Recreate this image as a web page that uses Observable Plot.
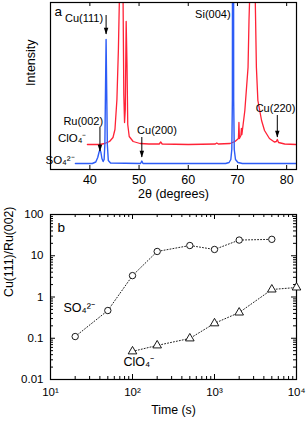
<!DOCTYPE html>
<html><head><meta charset="utf-8">
<script src="https://cdn.jsdelivr.net/npm/d3@7"></script>
<script src="https://cdn.jsdelivr.net/npm/@observablehq/plot@0.6"></script>
<style>
body{margin:0;background:#fff;}
#chart{width:307px;}
#chart svg{display:block;}
</style>
</head><body><div id="chart"></div>
<script>
// ---------- Panel (a): XRD patterns ----------
const so4TwoTheta = [37.06,40.5,41.2,41.6,41.85,42.05,42.25,42.45,42.7,42.9,43.05,43.18,43.3,43.42,43.55,43.75,44.2,50.3,50.56,50.8,67.6,68.3,68.65,68.85,68.97,69.1,69.23,69.35,69.6,70.1,71.0,82.0];
const so4Intensity = [6,6,7.5,12,17,20,17,11,8,10,25,80,130,80,25,9,6.5,6,8.5,6,6,7,10,20,70,1000,70,20,10,7,6,6];
const clo4TwoTheta = [39.5,42.0,43.0,44.0,44.7,45.1,45.5,45.8,46.0,46.37,46.75,46.9,47.05,47.2,47.38,47.55,47.7,48.0,48.8,50.2,52.0,54.1,54.4,54.7,60.0,65.5,65.8,66.1,68.5,69.5,70.2,70.3,70.4,70.7,70.8,70.9,71.5,72.15,72.35,72.5,73.0,73.6,73.85,74.15,74.9,75.5,76.5,77.5,77.9,78.1,78.35,79.6,82.0];
const clo4Intensity = [25,25,26,28,32,40,70,120,170,700,170,75,47,60,148,105,45,33,28,26,25.5,25.5,27.5,25.5,25,25.5,26.5,25.5,26,28,31,47,31,34,41,35,59,102,150,175,900,175,102,69,49,39,31,27.5,28,30,27,25.5,25];
const xTicksA = [40,50,60,70,80];

const peakNames   = ["Cu(111)","Ru(002)","Cu(200)","Cu(220)"];
const peakAngles  = [43.3,42.05,50.56,78.1];
const arrowTop    = [154,42,32,54];
const arrowTip    = [135,18,12,32];
const labelAngle  = [42.7,42.7,49.6,73.7];
const labelLevel  = [151,48,39,61];
const labelAnchor = ["end","end","start","start"];

// ---------- Panel (b): Cu(111)/Ru(002) ratio vs time ----------
const timeSO4  = [20,50,100,200,500,1000,2000,5000];
const ratioSO4 = [0.11,0.47,3.3,12.7,17.7,14.2,24,25];
const timeClO4  = [100,200,500,1000,2000,5000,10000];
const ratioClO4 = [0.048,0.067,0.099,0.23,0.42,1.52,1.7];
const xTicksB = [10,100,1000,10000];
const xTickLabelsB = ["10\u00B9","10\u00B2","10\u00B3","10\u2074"];
const xMinorB = [20,30,40,50,60,70,80,90,200,300,400,500,600,700,800,900,2000,3000,4000,5000,6000,7000,8000,9000];
const yTicksB = [0.01,0.1,1,10,100];
const yTickLabelsB = ["0.01","0.1","1","10","100"];
const yMinorB = [0.02,0.03,0.04,0.05,0.06,0.07,0.08,0.09,0.2,0.3,0.4,0.5,0.6,0.7,0.8,0.9,2,3,4,5,6,7,8,9,20,30,40,50,60,70,80,90];

const font = "'Liberation Sans', Arial, Helvetica, sans-serif";
const RED = "#ff2236", BLUE = "#2d5cf6";

const so4Pattern = so4TwoTheta.map((t,i)=>({t, I: so4Intensity[i]}));
const clo4Pattern = clo4TwoTheta.map((t,i)=>({t, I: clo4Intensity[i]}));
const arrows = peakNames.map((n,i)=>({n, x: peakAngles[i], y1: arrowTop[i], y2: arrowTip[i]}));
const peakLabels = peakNames.map((n,i)=>({n, x: labelAngle[i], y: labelLevel[i], a: labelAnchor[i]}));
const labelsEnd = peakLabels.filter(d => d.a === "end");
const labelsStart = peakLabels.filter(d => d.a === "start");

const downHead = {draw(ctx, size){ const s = Math.sqrt(size/Math.PI); ctx.moveTo(0,0); ctx.lineTo(-s*0.8,-s*2.4); ctx.lineTo(s*0.8,-s*2.4); ctx.closePath(); }};

const fhA = 205-2-36;
const plotA = Plot.plot({
  width: 307, height: 205, marginTop: 2, marginBottom: 36, marginLeft: 50, marginRight: 11,
  style: {fontFamily: font, fontSize: "12.5px", color: "black", background: "white"},
  x: {domain: [32, 82]},
  y: {domain: [0, 167], axis: null},
  marks: [
    Plot.line(clo4Pattern, {x: "t", y: "I", stroke: RED, strokeWidth: 1.3, clip: true}),
    Plot.line(so4Pattern, {x: "t", y: "I", stroke: BLUE, strokeWidth: 1.4, clip: true}),
    Plot.frame({stroke: "black", strokeWidth: 1.2}),
    Plot.tickX(xTicksA, {x: d=>d, insetTop: fhA-4, stroke: "black"}),
    Plot.tickX(xTicksA, {x: d=>d, insetBottom: fhA-4, stroke: "black"}),
    Plot.axisX({ticks: xTicksA, tickSize: 0, tickPadding: 6, label: null, fontSize: 12.5}),
    Plot.text(["2\u03B8 (degrees)"], {frameAnchor: "bottom", dy: 28, fontSize: 12.5}),
    Plot.text(["Intensity"], {frameAnchor: "left", dx: -20, rotate: -90, fontSize: 12.5}),
    Plot.text(["a"], {frameAnchor: "top-left", textAnchor: "start", lineAnchor: "middle", dx: 4, dy: 9, fontSize: 13.5}),
    Plot.ruleX(arrows, {x: "x", y1: "y1", y2: "y2", stroke: "black", strokeWidth: 1}),
    Plot.dot(arrows, {x: "x", y: "y2", symbol: downHead, r: 2.8, fill: "black", stroke: "none"}),
    Plot.text(labelsEnd, {x: "x", y: "y", text: "n", textAnchor: "end", fontSize: 11}),
    Plot.text(labelsStart, {x: "x", y: "y", text: "n", textAnchor: "start", fontSize: 11}),
    Plot.text(["Si(004)"], {x: [68.6], y: [155], textAnchor: "end", fontSize: 11}),
    Plot.text(["ClO\u2084\u207B"], {x: [39.3], y: [31], textAnchor: "end", fontSize: 11.5}),
    Plot.text(["SO\u2084\u00B2\u207B"], {x: [36.9], y: [9], textAnchor: "end", fontSize: 11.5})
  ]
});

const fhB = 216-9-42, fwB = 307-50-11;
const so4Series = timeSO4.map((t,i)=>({t, r: ratioSO4[i]}));
const clo4Series = timeClO4.map((t,i)=>({t, r: ratioClO4[i]}));
const plotB = Plot.plot({
  width: 307, height: 216, marginTop: 9, marginBottom: 42, marginLeft: 50, marginRight: 11,
  style: {fontFamily: font, fontSize: "11.5px", color: "black", background: "white"},
  x: {type: "log", domain: [10, 10000]},
  y: {type: "log", domain: [0.01, 100]},
  marks: [
    Plot.frame({stroke: "black", strokeWidth: 1.2}),
    Plot.tickX(xTicksB, {x: d=>d, insetTop: fhB-5, stroke: "black"}),
    Plot.tickX(xTicksB, {x: d=>d, insetBottom: fhB-5, stroke: "black"}),
    Plot.tickX(xMinorB, {x: d=>d, insetTop: fhB-3, stroke: "black"}),
    Plot.tickX(xMinorB, {x: d=>d, insetBottom: fhB-3, stroke: "black"}),
    Plot.tickY(yTicksB, {y: d=>d, insetRight: fwB-5, stroke: "black"}),
    Plot.tickY(yTicksB, {y: d=>d, insetLeft: fwB-5, stroke: "black"}),
    Plot.tickY(yMinorB, {y: d=>d, insetRight: fwB-3, stroke: "black"}),
    Plot.tickY(yMinorB, {y: d=>d, insetLeft: fwB-3, stroke: "black"}),
    Plot.axisX({ticks: xTicksB, tickFormat: d => xTickLabelsB[xTicksB.indexOf(d)], tickSize: 0, tickPadding: 8, label: null, fontSize: 11.5}),
    Plot.axisY({ticks: yTicksB, tickFormat: d => yTickLabelsB[yTicksB.indexOf(d)], tickSize: 0, tickPadding: 7, label: null, fontSize: 11.5}),
    Plot.text(["Time (s)"], {frameAnchor: "bottom", dy: 34, fontSize: 12.3}),
    Plot.text(["Cu(111)/Ru(002)"], {frameAnchor: "left", dx: -41, rotate: -90, fontSize: 12.3}),
    Plot.text(["b"], {frameAnchor: "top-left", textAnchor: "start", lineAnchor: "middle", dx: 7, dy: 13, fontSize: 13.5}),
    Plot.line(so4Series, {x: "t", y: "r", stroke: "#222", strokeWidth: 1, strokeDasharray: "1,2"}),
    Plot.line(clo4Series, {x: "t", y: "r", stroke: "#222", strokeWidth: 1, strokeDasharray: "1,2"}),
    Plot.dot(so4Series, {x: "t", y: "r", symbol: "circle", r: 3.2, stroke: "black", fill: "white", strokeWidth: 0.9}),
    Plot.dot(clo4Series, {x: "t", y: "r", symbol: "triangle", r: 3.2, stroke: "black", fill: "white", strokeWidth: 0.9}),
    Plot.text(["SO\u2084\u00B2\u207B"], {x: [14.4], y: [0.53], textAnchor: "start", fontSize: 12.5}),
    Plot.text(["ClO\u2084\u207B"], {x: [77.7], y: [0.026], textAnchor: "start", fontSize: 12.5})
  ]
});

document.getElementById("chart").append(plotA, plotB);
</script>
</body></html>
